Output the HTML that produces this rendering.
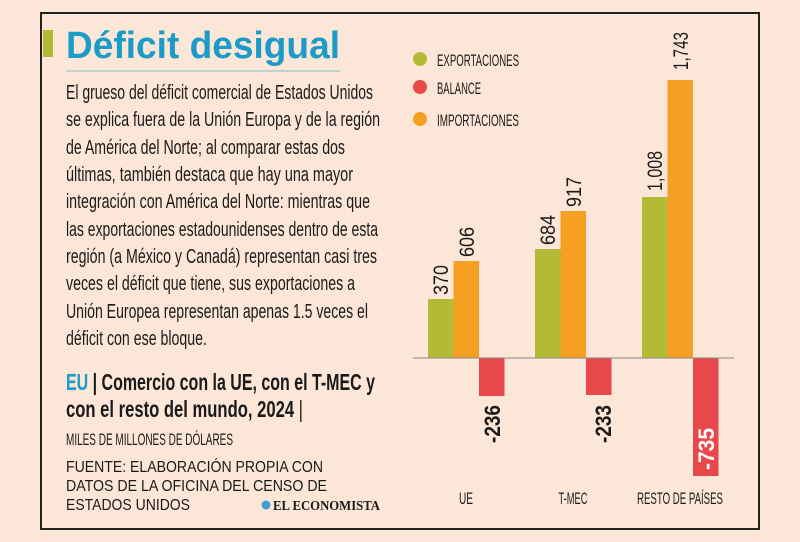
<!DOCTYPE html>
<html><head><meta charset="utf-8"><style>
html,body{margin:0;padding:0;background:#fce6d7;}
svg{display:block}
text{font-family:"Liberation Sans Narrow","Liberation Sans",sans-serif;fill:#1a1a1a}
</style></head><body>
<svg width="800" height="542" viewBox="0 0 800 542" xmlns="http://www.w3.org/2000/svg">
<rect x="0" y="0" width="800" height="542" fill="#fce6d7"/>
<rect x="41" y="13" width="718" height="516" fill="none" stroke="#222" stroke-width="2"/>
<rect x="43" y="30" width="10" height="27" fill="#b3b935"/>
<text x="66" y="58" font-size="38" font-weight="bold" style="font-family:'Liberation Sans',sans-serif;fill:#1b9bc8" textLength="274" lengthAdjust="spacingAndGlyphs">Déficit desigual</text>
<line x1="66" y1="71" x2="340" y2="71" stroke="#7cc3c8" stroke-width="1"/>
<g font-size="20">
<text x="66" y="99" textLength="307" lengthAdjust="spacingAndGlyphs">El grueso del déficit comercial de Estados Unidos</text>
<text x="66" y="126" textLength="314" lengthAdjust="spacingAndGlyphs">se explica fuera de la Unión Europa y de la región</text>
<text x="66" y="154" textLength="279" lengthAdjust="spacingAndGlyphs">de América del Norte; al comparar estas dos</text>
<text x="66" y="181" textLength="287" lengthAdjust="spacingAndGlyphs">últimas, también destaca que hay una mayor</text>
<text x="66" y="208" textLength="304" lengthAdjust="spacingAndGlyphs">integración con América del Norte: mientras que</text>
<text x="66" y="236" textLength="312" lengthAdjust="spacingAndGlyphs">las exportaciones estadounidenses dentro de esta</text>
<text x="66" y="263" textLength="311" lengthAdjust="spacingAndGlyphs">región (a México y Canadá) representan casi tres</text>
<text x="66" y="290" textLength="289" lengthAdjust="spacingAndGlyphs">veces el déficit que tiene, sus exportaciones a</text>
<text x="66" y="318" textLength="302" lengthAdjust="spacingAndGlyphs">Unión Europea representan apenas 1.5 veces el</text>
<text x="66" y="345" textLength="141" lengthAdjust="spacingAndGlyphs">déficit con ese bloque.</text>
</g>
<text x="66" y="390" font-size="23" font-weight="bold" textLength="309" lengthAdjust="spacingAndGlyphs"><tspan style="fill:#1b9bc8">EU</tspan> | Comercio con la UE, con el T-MEC y</text>
<text x="66" y="417" font-size="23" font-weight="bold" textLength="237" lengthAdjust="spacingAndGlyphs">con el resto del mundo, 2024 <tspan font-weight="normal">|</tspan></text>
<text x="66" y="445" font-size="17" textLength="167" lengthAdjust="spacingAndGlyphs">MILES DE MILLONES DE DÓLARES</text>
<g font-size="16">
<text x="66" y="472" style="font-family:'Liberation Sans',sans-serif" textLength="257" lengthAdjust="spacingAndGlyphs">FUENTE: ELABORACIÓN PROPIA CON</text>
<text x="66" y="491" style="font-family:'Liberation Sans',sans-serif" textLength="261" lengthAdjust="spacingAndGlyphs">DATOS DE LA OFICINA DEL CENSO DE</text>
<text x="66" y="510" style="font-family:'Liberation Sans',sans-serif" textLength="124" lengthAdjust="spacingAndGlyphs">ESTADOS UNIDOS</text>
</g>
<circle cx="266" cy="505" r="4.5" fill="#3aa0d0"/>
<text x="273" y="510" font-size="14" font-weight="bold" style="font-family:'Liberation Serif',serif" textLength="107" lengthAdjust="spacingAndGlyphs">EL ECONOMISTA</text>
<circle cx="420" cy="59" r="7" fill="#b3bb36"/>
<circle cx="420" cy="87" r="7" fill="#e8484a"/>
<circle cx="420" cy="119" r="7" fill="#f5a023"/>
<g font-size="17">
<text x="437" y="66" textLength="82" lengthAdjust="spacingAndGlyphs">EXPORTACIONES</text>
<text x="437" y="94" textLength="44" lengthAdjust="spacingAndGlyphs">BALANCE</text>
<text x="437" y="126" textLength="82" lengthAdjust="spacingAndGlyphs">IMPORTACIONES</text>
</g>
<rect x="428" y="299" width="25.5" height="59" fill="#b3bb36"/>
<rect x="453.5" y="261" width="25.5" height="97" fill="#f5a023"/>
<rect x="479" y="358" width="25.5" height="38" fill="#e8484a"/>
<rect x="535" y="249" width="25.5" height="109" fill="#b3bb36"/>
<rect x="560.5" y="211" width="25.5" height="147" fill="#f5a023"/>
<rect x="586" y="358" width="25.5" height="37" fill="#e8484a"/>
<rect x="642" y="197" width="25.5" height="161" fill="#b3bb36"/>
<rect x="667.5" y="80" width="25.5" height="278" fill="#f5a023"/>
<rect x="693" y="358" width="25.5" height="118" fill="#e8484a"/>
<line x1="413" y1="358" x2="734" y2="358" stroke="#888" stroke-width="1"/>
<g font-size="21">
<text transform="translate(448,295) rotate(-90)" textLength="30" lengthAdjust="spacingAndGlyphs">370</text>
<text transform="translate(474,257) rotate(-90)" textLength="30" lengthAdjust="spacingAndGlyphs">606</text>
<text transform="translate(555,245) rotate(-90)" textLength="30" lengthAdjust="spacingAndGlyphs">684</text>
<text transform="translate(581,207) rotate(-90)" textLength="30" lengthAdjust="spacingAndGlyphs">917</text>
<text transform="translate(662,191) rotate(-90)" textLength="40" lengthAdjust="spacingAndGlyphs">1,008</text>
<text transform="translate(688,70) rotate(-90)" textLength="38" lengthAdjust="spacingAndGlyphs">1,743</text>
</g>
<g font-size="22" font-weight="bold">
<text transform="translate(500,443) rotate(-90)" textLength="38" lengthAdjust="spacingAndGlyphs">-236</text>
<text transform="translate(611,443) rotate(-90)" textLength="38" lengthAdjust="spacingAndGlyphs">-233</text>
<text transform="translate(714,470) rotate(-90)" textLength="42" lengthAdjust="spacingAndGlyphs" style="fill:#fff">-735</text>
</g>
<g font-size="17" text-anchor="middle">
<text x="466" y="504" textLength="14" lengthAdjust="spacingAndGlyphs">UE</text>
<text x="573" y="504" textLength="29" lengthAdjust="spacingAndGlyphs">T-MEC</text>
<text x="680" y="504" textLength="86" lengthAdjust="spacingAndGlyphs">RESTO DE PAÍSES</text>
</g>
</svg>
</body></html>
